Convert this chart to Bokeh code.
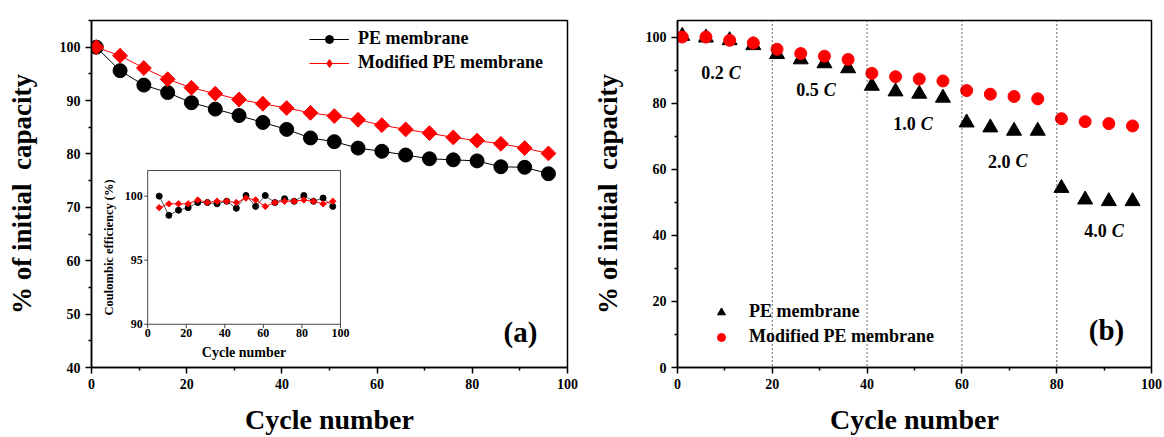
import numpy as np
from bokeh.plotting import figure
from bokeh.layouts import row
from bokeh.models import Range1d, Legend, LegendItem, Span, FixedTicker, Label
from bokeh.core.properties import value
from bokeh.embed import file_html
from bokeh.resources import INLINE

FONT = "Liberation Serif"

# ---------------- data ----------------
cycles = [1, 6, 11, 16, 21, 26, 31, 36, 41, 46, 51, 56, 61, 66, 71, 76, 81, 86, 91, 96]

# (a) cycling at constant rate
pe_a = [100.0, 95.6, 92.9, 91.5, 89.6, 88.4, 87.2, 85.9, 84.6, 83.0,
        82.3, 81.1, 80.5, 79.8, 79.1, 78.9, 78.7, 77.6, 77.5, 76.3]
mod_a = [100.0, 98.4, 96.1, 94.0, 92.4, 91.3, 90.2, 89.4, 88.6, 87.7,
         87.1, 86.4, 85.4, 84.6, 83.9, 83.1, 82.5, 81.9, 81.1, 80.1]

# (a) inset: coulombic efficiency
ce_cycles = [6, 11, 16, 21, 26, 31, 36, 41, 46, 51, 56, 61, 66, 71, 76, 81, 86, 91, 96]
ce_pe = [100.0, 98.5, 98.9, 99.1, 99.5, 99.5, 99.4, 99.6, 99.05, 100.05,
         99.2, 100.05, 99.5, 99.8, 99.6, 100.05, 99.6, 99.85, 99.2]
ce_mod = [99.1, 99.4, 99.4, 99.4, 99.7, 99.5, 99.6, 99.6, 99.5, 99.85,
          99.7, 99.2, 99.5, 99.6, 99.6, 99.7, 99.6, 99.4, 99.6]

# (b) rate capability
pe_b = [100.3, 99.8, 99.0, 97.5, 94.8, 93.2, 92.0, 90.5, 85.2, 83.5,
        82.8, 81.6, 74.1, 72.6, 71.6, 71.6, 54.3, 50.8, 50.3, 50.3]
mod_b = [100.0, 100.0, 99.0, 98.2, 96.3, 95.0, 94.2, 93.2, 89.0, 88.0,
         87.3, 86.7, 83.8, 82.7, 82.0, 81.3, 75.3, 74.4, 73.8, 73.1]

rate_labels = ["0.2", "0.5", "1.0", "2.0", "4.0"]
rate_boundaries = [20, 40, 60, 80]

x_ticks = [0, 20, 40, 60, 80, 100]
ya_ticks = [40, 50, 60, 70, 80, 90, 100]
yb_ticks = [0, 20, 40, 60, 80, 100]
inset_yticks = [90, 95, 100]

# annotation placement (data coordinates)
rate_lab_x = [10.2, 30.2, 50.7, 70.7, 91.0]
rate_lab_y = [89.2, 84.1, 73.8, 62.4, 41.4]
inset_src_x = (0, 100)
inset_src_y = (90, 102)
inset_tgt_x = (11.8, 52.3)
inset_tgt_y = (48.1, 76.9)

NAN = [np.nan]


def minors(t):
    return [(a + b) / 2 for a, b in zip(t[:-1], t[1:])] + [t[-1] + (t[1] - t[0]) / 2]


def style(p, xt, yt):
    p.xgrid.visible = False
    p.ygrid.visible = False
    p.outline_line_color = "black"
    p.outline_line_width = 1.5
    p.background_fill_color = "white"
    p.border_fill_color = "white"
    for ax, t in ((p.xaxis[0], xt), (p.yaxis[0], yt)):
        ax.ticker = FixedTicker(ticks=t, minor_ticks=minors(t))
        ax.axis_line_width = 1.5
        ax.axis_line_color = "black"
        ax.major_tick_in = 0
        ax.major_tick_out = 6
        ax.minor_tick_in = 0
        ax.minor_tick_out = 3
        ax.major_tick_line_width = 1.5
        ax.minor_tick_line_width = 1.5
        ax.major_label_text_font = FONT
        ax.major_label_text_font_style = "bold"
        ax.major_label_text_font_size = "14px"
        ax.major_label_text_color = "black"
        ax.axis_label_text_font = FONT
        ax.axis_label_text_font_style = "bold"
        ax.axis_label_text_color = "black"
        ax.major_label_standoff = 5
    p.xaxis[0].axis_label = "Cycle number"
    p.xaxis[0].axis_label_text_font_size = "28px"
    p.xaxis[0].axis_label_standoff = 12
    p.yaxis[0].axis_label = "% of initial\u00a0 capacity"
    p.yaxis[0].axis_label_text_font_size = "27px"
    p.yaxis[0].axis_label_standoff = 20


def make_legend(items, loc, spacing, gw, standoff):
    return Legend(items=items, location=loc, padding=0, margin=0, spacing=spacing,
                  glyph_width=gw, glyph_height=20, label_height=20, label_standoff=standoff,
                  label_text_font=FONT, label_text_font_style="bold", label_text_font_size="18px",
                  label_text_color="black", background_fill_alpha=0, border_line_alpha=0)


# ---------------- panel (a) ----------------
p1 = figure(width=580, height=437, output_backend="svg", toolbar_location=None,
            x_range=Range1d(0, 100), y_range=Range1d(40, 105),
            min_border_left=91, min_border_right=13, min_border_top=16, min_border_bottom=69)
style(p1, x_ticks, ya_ticks)

p1.line(cycles, pe_a, color="black", line_width=1)
p1.scatter(cycles, pe_a, size=14, color="black")
p1.line(cycles, mod_a, color="red", line_width=1)
p1.scatter(cycles, mod_a, marker="square", size=10.5, angle=np.pi / 4, color="red")

lg1l = p1.line(NAN, NAN, color="black", line_width=1)
lg1s = p1.scatter(NAN, NAN, size=8, color="black")
lg2l = p1.line(NAN, NAN, color="red", line_width=1)
lg2s = p1.scatter(NAN, NAN, marker="diamond", size=11, color="red")
p1.add_layout(make_legend([LegendItem(label="PE membrane", renderers=[lg1l, lg1s]),
                           LegendItem(label="Modified PE membrane", renderers=[lg2l, lg2s])],
                          (218, 294), 3, 40, 9))

# inset
sub = p1.subplot(x_source=Range1d(*inset_src_x), y_source=Range1d(*inset_src_y),
                 x_target=Range1d(*inset_tgt_x), y_target=Range1d(*inset_tgt_y))
sub.quad(left=[inset_src_x[0]], right=[inset_src_x[1]], bottom=[inset_src_y[0]], top=[inset_src_y[1]],
         fill_color="white", line_color="#444444", line_width=1)
sub.segment(x0=[inset_src_x[0]] * len(inset_yticks), y0=inset_yticks,
            x1=[inset_src_x[0] - 1.8] * len(inset_yticks), y1=inset_yticks, line_color="#444444")
sub.segment(x0=x_ticks, y0=[inset_src_y[0]] * len(x_ticks),
            x1=x_ticks, y1=[inset_src_y[0] - 0.3] * len(x_ticks), line_color="#444444")
sub.text(x=[inset_src_x[0]] * len(inset_yticks), y=inset_yticks, text=[str(v) for v in inset_yticks],
         text_align="right", text_baseline="middle", x_offset=-5, text_color="black",
         text_font=value(FONT), text_font_style="bold", text_font_size="12px")
sub.text(x=x_ticks, y=[inset_src_y[0]] * len(x_ticks), text=[str(v) for v in x_ticks],
         text_align="center", text_baseline="top", y_offset=5, text_color="black",
         text_font=value(FONT), text_font_style="bold", text_font_size="12px")
sub.text(x=[50], y=[inset_src_y[0]], text=["Cycle number"], text_align="center", text_baseline="middle",
         y_offset=28, text_color="black",
         text_font=value(FONT), text_font_style="bold", text_font_size="14px")
sub.text(x=[inset_src_x[0]], y=[96], text=["Coulombic efficiency (%)"], angle=np.pi / 2,
         text_align="center", text_baseline="middle", x_offset=-39, text_color="black",
         text_font=value(FONT), text_font_style="bold", text_font_size="12.5px")
sub.line(ce_cycles, ce_pe, color="#555555", line_width=1)
sub.scatter(ce_cycles, ce_pe, size=6, color="black")
sub.line(ce_cycles, ce_mod, color="red", line_width=1)
sub.scatter(ce_cycles, ce_mod, marker="square", size=4.5, angle=np.pi / 4, color="red")

p1.add_layout(Label(x=90.1, y=46.6, text="(a)", text_align="center", text_baseline="middle",
                    text_color="black", text_font=FONT, text_font_style="bold", text_font_size="29px"))

# ---------------- panel (b) ----------------
p2 = figure(width=584, height=437, output_backend="svg", toolbar_location=None,
            x_range=Range1d(0, 100), y_range=Range1d(0, 105),
            min_border_left=97, min_border_right=13, min_border_top=20, min_border_bottom=66)
style(p2, x_ticks, yb_ticks)

for b in rate_boundaries:
    p2.add_layout(Span(location=b, dimension="height", line_color="black",
                       line_width=1.2, line_dash="1 3"))

p2.scatter(cycles, pe_b, marker="triangle", size=15, color="black")
p2.scatter(cycles, mod_b, size=12, color="red")

p2.text(x=rate_lab_x, y=rate_lab_y, text=rate_labels, text_align="right", text_baseline="middle",
        x_offset=-2, text_color="black",
        text_font=value(FONT), text_font_style="bold", text_font_size="18px")
p2.text(x=rate_lab_x, y=rate_lab_y, text=["C"] * len(rate_labels), text_align="left",
        text_baseline="middle", x_offset=3, text_color="black", text_font=value(FONT),
        text_font_style="bold italic", text_font_size="18px")

lg3 = p2.scatter(NAN, NAN, marker="triangle", size=11, color="black")
lg4 = p2.scatter(NAN, NAN, size=9, color="red")
p2.add_layout(make_legend([LegendItem(label="PE membrane", renderers=[lg3]),
                           LegendItem(label="Modified PE membrane", renderers=[lg4])],
                          (34, 20), 4, 20, 18))

p2.add_layout(Label(x=90.5, y=11.4, text="(b)", text_align="center", text_baseline="middle",
                    text_color="black", text_font=FONT, text_font_style="bold", text_font_size="29px"))

layout = row(p1, p2)
open("out.html", "w").write(file_html(layout, INLINE))
